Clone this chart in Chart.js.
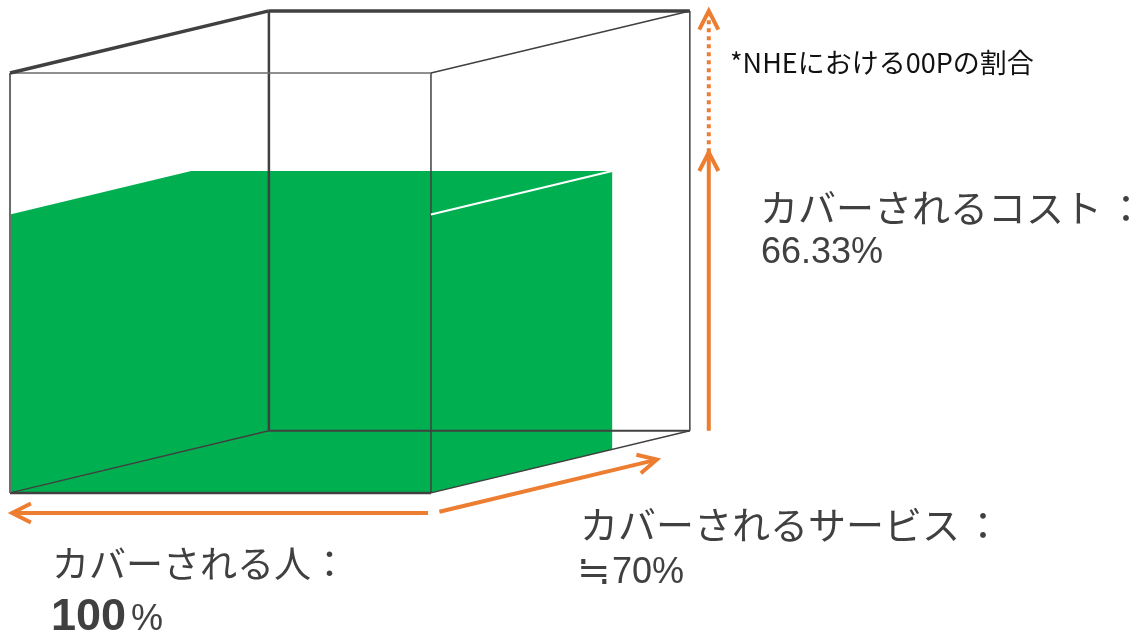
<!DOCTYPE html>
<html>
<head>
<meta charset="utf-8">
<script src="https://cdn.jsdelivr.net/npm/chart.js@4.4.1/dist/chart.umd.min.js"></script>
<style>
  html, body { margin: 0; padding: 0; background: #fff; }
  #wrap { width: 1139px; height: 639px; position: relative; }
</style>
</head>
<body>
<div id="wrap"><canvas id="cubeChart"></canvas></div>
<script>
    // coverage of the three dimensions (percent): people, services, cost
    const dimensions = ["people", "services", "cost"];
    const coverage = [100, 70, 66.33];
    const cubeMax = 100;
    const axisLabels = ["カバーされる人：", "カバーされるサービス：", "カバーされるコスト："];
    const valueLabels = ["100%", "≒70%", "66.33%"];
    const noteText = "*NHEにおける00Pの割合";

    const green = "#00B050";
    const orange = "#ED7D31";
    const edgeColor = "#404040";
    const textColor = "#404040";

    // oblique projection: a full step in depth (services) moves this far in x / y
    const depthShift = [61.5, 14.8];

    function project(people, services, cost) {
        return {
            x: people + services / cubeMax * depthShift[0],
            y: cost + services / cubeMax * depthShift[1]
        };
    }

    function edge(a, b, width, color) {
        return {
            data: [project(...a), project(...b)],
            showLine: true,
            borderColor: color || edgeColor,
            borderWidth: width,
            pointRadius: 0,
            fill: false
        };
    }

    function arrowLine(a, b, dashed) {
        return {
            data: [a, b],
            showLine: true,
            borderColor: orange,
            borderWidth: 4,
            borderDash: dashed ? [4, 4] : [],
            borderCapStyle: "butt",
            pointRadius: 0,
            fill: false
        };
    }

    // open "V" head at tip, pointing from `from` towards `tip`
    function arrowHead(from, tip) {
        const dx = tip.x - from.x, dy = tip.y - from.y;
        const len = Math.hypot(dx, dy);
        const ux = dx / len, uy = dy / len;
        const L = 5, ang = 27 * Math.PI / 180;
        const arm = s => ({
            x: tip.x - L * (ux * Math.cos(ang) - s * uy * Math.sin(ang)),
            y: tip.y - L * (uy * Math.cos(ang) + s * ux * Math.sin(ang))
        });
        return {
            data: [arm(1), tip, arm(-1)],
            showLine: true,
            borderColor: orange,
            borderWidth: 4,
            borderJoinStyle: "miter",
            pointRadius: 0,
            fill: false
        };
    }

    const [p, s, c] = coverage;
    const M = cubeMax;

    // cube edges
    const datasets = [
        // white seam on the green block's top-right edge
        edge([p, 0, c], [p, s, c], 2, "#ffffff"),
        edge([0, M, M], [M, M, M], 3.5),
        edge([0, 0, M], [0, M, M], 3.5),
        edge([M, 0, M], [M, M, M], 1.5),
        edge([0, 0, M], [M, 0, M], 1.5, "#6b6b6b"),
        edge([0, 0, 0], [0, 0, M], 2, "#6b6b6b"),
        edge([0, M, 0], [0, M, M], 2.5),
        edge([M, 0, 0], [M, 0, M], 1.5),
        edge([M, M, 0], [M, M, M], 1.5),
        edge([0, 0, 0], [M, 0, 0], 2.5),
        edge([0, 0, 0], [0, M, 0], 1.5),
        edge([0, M, 0], [M, M, 0], 2),
        edge([M, 0, 0], [M, M, 0], 1.5)
    ];

    // people arrow, below the front face
    const pStart = project(99.3, 0, 0); pStart.y -= 4.8;
    const pEnd = project(0.5, 0, 0); pEnd.y -= 4.8;
    datasets.push(arrowLine(pStart, pEnd), arrowHead(pStart, pEnd));

    // services arrow, along the depth
    const sStart = project(M, 0, 0); sStart.x += 2; sStart.y -= 4.5;
    const sEnd = project(M, 84, 0); sEnd.x += 2; sEnd.y -= 4.5;
    datasets.push(arrowLine(sStart, sEnd), arrowHead(sStart, sEnd));

    // cost arrow, right of the back face: solid to covered share, dotted to 100
    const cBase = project(M, M, 0); cBase.x += 4.5;
    const cMid = project(M, M, c); cMid.x += 4.5;
    const cTop = project(M, M, M); cTop.x += 4.5;
    datasets.push(arrowLine(cBase, cMid), arrowHead(cBase, cMid));
    datasets.push(arrowLine(cMid, cTop, true), arrowHead(cMid, cTop));

    // green covered block drawn as one silhouette under the edges
    const blockPlugin = {
        id: "block",
        beforeDatasetsDraw(chart) {
            const ctx = chart.ctx;
            const xs = chart.scales.x, ys = chart.scales.y;
            const pts = [[0, 0, 0], [0, 0, c], [0, s, c], [p, s, c], [p, s, 0], [p, 0, 0]]
                .map(v => project(...v));
            ctx.save();
            ctx.beginPath();
            pts.forEach((pt, i) => {
                const X = xs.getPixelForValue(pt.x), Y = ys.getPixelForValue(pt.y);
                i ? ctx.lineTo(X, Y) : ctx.moveTo(X, Y);
            });
            ctx.closePath();
            ctx.fillStyle = green;
            ctx.fill();
            ctx.restore();
        }
    };

    // label text with the trailing colon set apart a little
    function drawLabel(ctx, text, x, y, colonGap) {
        const body = text.slice(0, -1);
        ctx.fillText(body, x, y);
        ctx.fillText(text.slice(-1), x + ctx.measureText(body).width + colonGap, y);
    }

    const labelPlugin = {
        id: "labels",
        afterDraw(chart) {
            const ctx = chart.ctx;
            const jp = '"Noto Sans CJK JP", sans-serif';
            const latin = '"Liberation Sans", Arial, "Noto Sans CJK JP", sans-serif';
            ctx.save();
            ctx.textAlign = "left";

            ctx.fillStyle = "#111111";
            ctx.font = "27px " + jp;
            ctx.textBaseline = "alphabetic";
            ctx.fillText(noteText, 730, 73);

            ctx.fillStyle = textColor;
            ctx.textBaseline = "middle";
            ctx.font = "38px " + jp;
            drawLabel(ctx, axisLabels[2], 760, 208, 5);
            drawLabel(ctx, axisLabels[1], 580, 525, 4);
            ctx.font = "37px " + jp;
            drawLabel(ctx, axisLabels[0], 52, 564, 0);

            ctx.textBaseline = "alphabetic";
            ctx.font = "36px " + latin;
            ctx.fillText(valueLabels[2], 761, 263);
            ctx.font = "300 40px " + jp;
            ctx.fillText("≒", 577, 584);
            ctx.font = "36px " + latin;
            ctx.fillText(valueLabels[1].replace("≒", ""), 612, 583);

            const num = valueLabels[0].replace("%", "");
            ctx.font = "bold 45px " + latin;
            ctx.fillText(num, 51, 630);
            const w = ctx.measureText(num).width;
            ctx.font = "36px " + latin;
            ctx.fillText("%", 51 + w + 5, 630);
            ctx.restore();
        }
    };

    function drawCubeChart() {
        const ctx = document.getElementById("cubeChart").getContext("2d");
        window.cubeChart = new Chart(ctx, {
            type: "scatter",
            data: { datasets: datasets },
            options: {
                responsive: true,
                maintainAspectRatio: false,
                animation: false,
                layout: { padding: 0 },
                scales: {
                    x: { type: "linear", min: -2.38, max: 268.2, display: false },
                    y: { type: "linear", min: -34.8, max: 117.4, display: false }
                },
                plugins: {
                    legend: { display: false },
                    tooltip: { enabled: false }
                }
            },
            plugins: [blockPlugin, labelPlugin]
        });
    }

    drawCubeChart();
</script>
</body>
</html>
